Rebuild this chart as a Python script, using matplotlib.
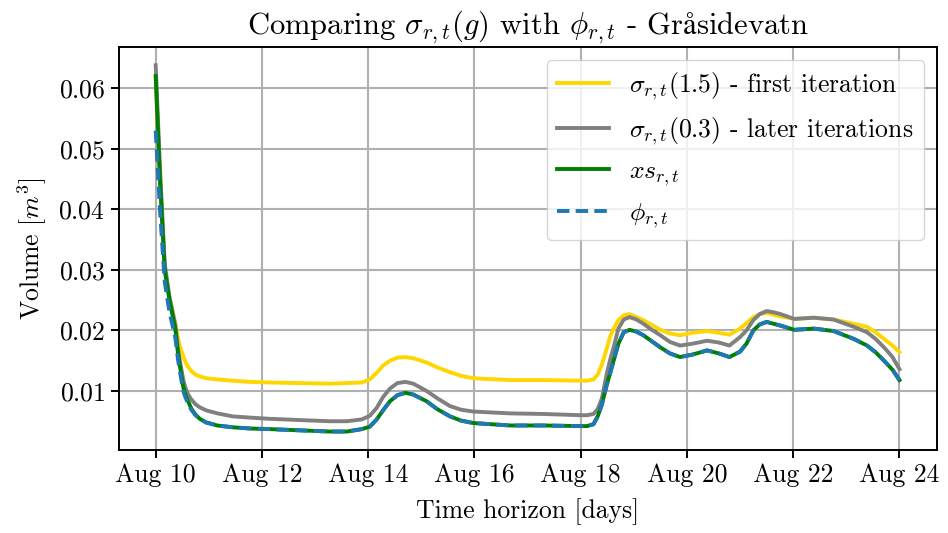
import matplotlib
matplotlib.use("Agg")
import matplotlib.pyplot as plt
import matplotlib.dates as mdates
from datetime import datetime, timedelta

plt.rcParams['font.family'] = ['cmr10', 'DejaVu Serif']
plt.rcParams['mathtext.fontset'] = 'cm'
plt.rcParams['axes.formatter.use_mathtext'] = True

start = datetime(2021, 8, 10)

# time offsets in days from Aug 10
days = [0, 0.08, 0.17, 0.26, 0.37, 0.42, 0.46, 0.52, 0.55, 0.6,
        0.67, 0.75, 0.83, 0.95, 1.16, 1.45, 1.78, 2.15, 2.7, 3.28,
        3.6, 3.88, 4.03, 4.16, 4.28, 4.41, 4.55, 4.7, 4.85, 5.1,
        5.3, 5.54, 5.75, 5.98, 6.67, 7.3, 7.99, 8.12, 8.24, 8.32,
        8.4, 8.49, 8.55, 8.62, 8.71, 8.81, 8.92, 9.05, 9.18, 9.34,
        9.5, 9.68, 9.87, 10.1, 10.38, 10.6, 10.8, 11.0, 11.12, 11.25,
        11.37, 11.5, 11.63, 11.76, 12.02, 12.39, 12.76, 13.14, 13.39, 13.55,
        13.71, 13.87, 14.0]

sigma_first = [0.062, 0.045, 0.030, 0.0255, 0.0212, 0.0188, 0.0172, 0.0158, 0.0150, 0.0141,
               0.0133, 0.0127, 0.0124, 0.0121, 0.0119, 0.0117, 0.0115, 0.0114, 0.0113, 0.0112,
               0.0113, 0.0114, 0.0119, 0.0130, 0.0142, 0.0150, 0.0155, 0.0156, 0.0154, 0.0147,
               0.0139, 0.0131, 0.0125, 0.0121, 0.0118, 0.0118, 0.0117, 0.0117, 0.0119, 0.0127,
               0.0144, 0.0170, 0.0189, 0.0203, 0.0217, 0.0225, 0.0227, 0.0222, 0.0217, 0.0209,
               0.0201, 0.0195, 0.0192, 0.0196, 0.0199, 0.0196, 0.0193, 0.0203, 0.0212, 0.0222,
               0.0227, 0.0229, 0.0226, 0.0223, 0.0219, 0.0221, 0.0218, 0.0211, 0.0206, 0.0197,
               0.0186, 0.0175, 0.0164]

sigma_later = [0.0638, 0.047, 0.031, 0.0255, 0.0208, 0.0170, 0.0147, 0.0118, 0.0108, 0.0096,
               0.0086, 0.0078, 0.0073, 0.0068, 0.0063, 0.0058, 0.0056, 0.0054, 0.0052, 0.0050,
               0.0050, 0.0053, 0.0059, 0.0072, 0.0090, 0.0104, 0.0113, 0.0115, 0.0112, 0.0100,
               0.0088, 0.0075, 0.0069, 0.0066, 0.0063, 0.0062, 0.0060, 0.0060, 0.0062, 0.0070,
               0.0088, 0.0128, 0.0150, 0.0172, 0.0203, 0.0218, 0.0222, 0.0218, 0.0211, 0.0201,
               0.0192, 0.0181, 0.0175, 0.0178, 0.0183, 0.0180, 0.0175, 0.0189, 0.0200, 0.0217,
               0.0227, 0.0232, 0.0230, 0.0227, 0.0219, 0.0221, 0.0218, 0.0206, 0.0197, 0.0186,
               0.0172, 0.0156, 0.0136]

xs = [0.062, 0.045, 0.030, 0.025, 0.0202, 0.0162, 0.0139, 0.0106, 0.0097, 0.0085,
      0.0071, 0.0061, 0.0054, 0.0048, 0.0043, 0.0040, 0.0038, 0.0037, 0.0035, 0.0033,
      0.0033, 0.0037, 0.0041, 0.0053, 0.0068, 0.0083, 0.0093, 0.0097, 0.0094, 0.0083,
      0.0070, 0.0058, 0.0051, 0.0047, 0.0043, 0.0043, 0.0042, 0.0042, 0.0045, 0.0058,
      0.0078, 0.0110, 0.0128, 0.0150, 0.0178, 0.0197, 0.0201, 0.0198, 0.0192, 0.0182,
      0.0172, 0.0162, 0.0156, 0.0160, 0.0167, 0.0162, 0.0156, 0.0165, 0.0178, 0.0200,
      0.0210, 0.0214, 0.0211, 0.0208, 0.0201, 0.0203, 0.0199, 0.0186, 0.0175, 0.0164,
      0.0150, 0.0135, 0.0118]

phi = [0.053, 0.040, 0.028, 0.023, 0.0188, 0.0152, 0.0130, 0.0100, 0.0092, 0.0081,
       0.0069, 0.0060, 0.0054, 0.0048, 0.0043, 0.0040, 0.0038, 0.0037, 0.0035, 0.0033,
       0.0033, 0.0037, 0.0041, 0.0053, 0.0068, 0.0083, 0.0093, 0.0097, 0.0094, 0.0083,
       0.0070, 0.0058, 0.0051, 0.0047, 0.0043, 0.0043, 0.0042, 0.0042, 0.0045, 0.0058,
       0.0078, 0.0110, 0.0128, 0.0150, 0.0178, 0.0197, 0.0201, 0.0198, 0.0192, 0.0182,
       0.0172, 0.0162, 0.0156, 0.0160, 0.0167, 0.0162, 0.0156, 0.0165, 0.0178, 0.0200,
       0.0210, 0.0214, 0.0211, 0.0208, 0.0201, 0.0203, 0.0199, 0.0186, 0.0175, 0.0164,
       0.0150, 0.0135, 0.0118]

tick_days = [0, 2, 4, 6, 8, 10, 12, 14]

t = [start + timedelta(days=d) for d in days]

fig, ax = plt.subplots(figsize=(9.48, 5.33), dpi=100)
ax.plot(t, sigma_first, color='gold', lw=2.8, label=r'$\sigma_{r,t}(1.5)$ - first iteration')
ax.plot(t, sigma_later, color='grey', lw=2.8, label=r'$\sigma_{r,t}(0.3)$ - later iterations')
ax.plot(t, xs, color='green', lw=2.8, label=r'$xs_{r,t}$')
ax.plot(t, phi, color='tab:blue', lw=2.8, ls='--', dashes=(3.2, 1.6), label=r'$\phi_{r,t}$')

ax.set_xticks([start + timedelta(days=d) for d in tick_days])
ax.xaxis.set_major_formatter(mdates.DateFormatter('%b %d'))
ax.grid(True, color='#b0b0b0', lw=1.5)
ax.tick_params(labelsize=18.5, width=1.4, length=6)
for s in ax.spines.values():
    s.set_linewidth(1.4)

ax.set_xlabel('Time horizon [days]', fontsize=18.5, labelpad=8)
ax.set_ylabel(r'Volume [$m^3$]', fontsize=18.5, labelpad=7)
# cmr10 has no å, mathtext falls back to STIX for it
ax.set_title(r'Comparing $\sigma_{r,t}(g)$ with $\phi_{r,t}$ - Gr$\mathrm{å}$sidevatn',
             fontsize=22, pad=9)
ax.legend(loc='upper right', fontsize=18.5)

fig.subplots_adjust(left=0.125, right=0.988, bottom=0.156, top=0.912)
fig.savefig('out.png')
